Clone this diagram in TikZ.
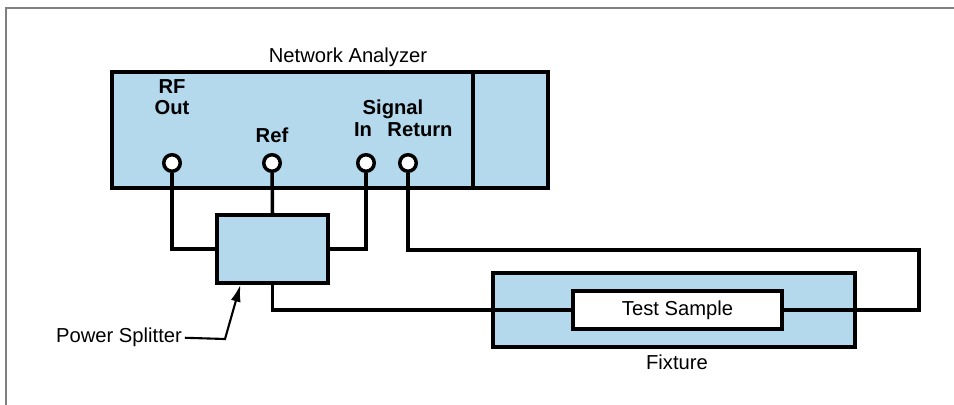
\documentclass[tikz,border=0pt]{standalone}
\usepackage{fontspec}
\setmainfont{Liberation Sans}
\usetikzlibrary{arrows.meta,calc}
\definecolor{boxblue}{HTML}{B4D8EC}
\begin{document}
\begin{tikzpicture}[x=0.02cm,y=-0.02cm,font=\fontsize{11.5}{12.5}\selectfont]
  \tikzstyle{box}=[draw,line width=2pt,fill=boxblue,inner sep=0pt]
  \tikzstyle{port}=[circle,draw,line width=2pt,fill=white,inner sep=0pt,minimum size=0.33cm]
  \tikzstyle{wire}=[line width=2pt]
  \tikzstyle{lbl}=[anchor=base,inner sep=0pt]
  \tikzstyle{plbl}=[anchor=base,inner sep=0pt,font=\fontsize{11.5}{12.5}\selectfont\bfseries,align=center]
  \useasboundingbox (0,0) rectangle (954,405);
  \draw[gray,line width=0.7pt] (954,8) -- (6,8) -- (6,405);
  % analyzer
  \node[box,minimum width=7.22cm,minimum height=2.32cm] (na) at (292.5,130) {};
  \node[box,minimum width=1.5cm,minimum height=2.32cm] (side) at (510.5,130) {};
  \node[lbl] at (348,63) {Network Analyzer};
  \node[plbl] at (172,115) {RF\\Out};
  \node[plbl] at (272,143) {Ref};
  \node[plbl] at (393,115) {Signal};
  \node[plbl] at (363,137) {In};
  \node[plbl] at (420,137) {Return};
  \node[port] (rf) at (172,163) {};
  \node[port] (ref) at (272,163) {};
  \node[port] (in) at (366,163) {};
  \node[port] (ret) at (408,163) {};
  % splitter and fixture
  \node[box,minimum width=2.22cm,minimum height=1.36cm] (split) at (272.5,249) {};
  \node[box,minimum width=7.24cm,minimum height=1.48cm] (fix) at (674,310) {};
  \node[box,fill=white,minimum width=4.18cm,minimum height=0.76cm] (sample) at (677.5,310) {Test Sample};
  \node[lbl] at (677,370) {Fixture};
  \node[lbl] (ps) at (119,343) {Power Splitter};
  \coordinate (bend) at (225,339);
  \coordinate (loop) at (919,250);
  % cables
  \draw[wire] (rf) |- (split.west);
  \draw[wire] (ref) -- (split.north);
  \draw[wire] (in) |- (split.east);
  \draw[wire] (ret) |- (loop) |- (sample.east);
  \draw[wire] (split.south) |- (sample.west);
  \draw[line width=1.2pt,-{Latex[length=0.34cm,width=0.2cm]}] ([xshift=1.5pt]ps.east) -- (bend)
    -- ($(split.south west)!0.22!(split.south east)$);
\end{tikzpicture}
\end{document}
